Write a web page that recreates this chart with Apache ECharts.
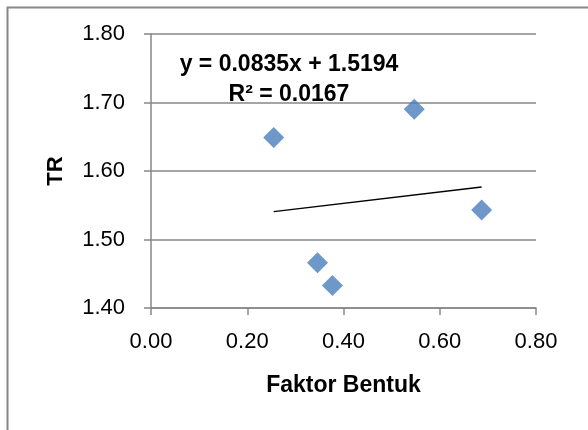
<!DOCTYPE html>
<html>
<head>
<meta charset="utf-8">
<script src="https://cdn.jsdelivr.net/npm/echarts@6/dist/echarts.min.js"></script>
<style>
html,body{margin:0;padding:0;background:#fff;}
#chart{width:588px;height:430px;}
</style>
</head>
<body>
<div id="chart"></div>
<script>
// Data
var faktorBentuk = [0.255, 0.346, 0.377, 0.547, 0.687];
var trValues = [1.649, 1.466, 1.433, 1.690, 1.543];
var trendSlope = 0.0835;
var trendIntercept = 1.5194;
var equationText = 'y = 0.0835x + 1.5194';
var r2Text = 'R\u00B2 = 0.0167';
var xAxisTitle = 'Faktor Bentuk';
var yAxisTitle = 'TR';

var points = faktorBentuk.map(function (x, i) { return [x, trValues[i]]; });
var xMin = Math.min.apply(null, faktorBentuk);
var xMax = Math.max.apply(null, faktorBentuk);
var trendLine = [
  [xMin, trendIntercept + trendSlope * xMin],
  [xMax, trendIntercept + trendSlope * xMax]
];

var FONT = '"Liberation Sans", Arial, sans-serif';
var GRAY = '#878787';

var chart = echarts.init(document.getElementById('chart'), null, {renderer: 'canvas'});
chart.setOption({
  animation: false,
  backgroundColor: '#ffffff',
  grid: {left: 151, top: 34, right: 52, bottom: 122, containLabel: false},
  xAxis: {
    type: 'value', min: 0, max: 0.8, interval: 0.2,
    name: xAxisTitle, nameLocation: 'middle', nameGap: 66,
    nameTextStyle: {fontFamily: FONT, fontSize: 23, fontWeight: 'bold', color: '#000'},
    axisLine: {show: true, lineStyle: {color: GRAY, width: 1.5}},
    axisTick: {show: true, length: 7, inside: false, lineStyle: {color: GRAY, width: 1.5}},
    axisLabel: {fontFamily: FONT, fontSize: 22, color: '#000', margin: 23,
      formatter: function (v) { return v.toFixed(2); }},
    splitLine: {show: false}
  },
  yAxis: {
    type: 'value', min: 1.4, max: 1.8, interval: 0.1,
    name: yAxisTitle, nameLocation: 'middle', nameGap: 84,
    nameTextStyle: {fontFamily: FONT, fontSize: 22, fontWeight: 'bold', color: '#000'},
    axisLine: {show: true, lineStyle: {color: GRAY, width: 1.5}},
    axisTick: {show: true, length: 7, inside: false, lineStyle: {color: GRAY, width: 1.5}},
    axisLabel: {fontFamily: FONT, fontSize: 22, color: '#000', margin: 26,
      formatter: function (v) { return v.toFixed(2); }},
    splitLine: {show: true, lineStyle: {color: GRAY, width: 1.5}}
  },
  series: [
    {
      type: 'scatter', data: points, symbol: 'diamond', symbolSize: [21, 21],
      itemStyle: {color: '#4A7EBB'}, z: 3
    },
    {
      type: 'line', data: trendLine, symbol: 'none',
      lineStyle: {color: '#000', width: 1.5}, z: 2
    }
  ],
  graphic: [
    {type: 'rect', left: 5, top: 5, shape: {width: 700, height: 600},
      style: {fill: 'none', stroke: GRAY, lineWidth: 2}, silent: true},
    {type: 'text', x: 289, y: 65,
      style: {text: equationText, font: 'bold 23px ' + FONT, fill: '#000',
        textAlign: 'center', textVerticalAlign: 'middle'}, z: 10},
    {type: 'text', x: 289, y: 95,
      style: {text: r2Text, font: 'bold 23px ' + FONT, fill: '#000',
        textAlign: 'center', textVerticalAlign: 'middle'}, z: 10}
  ]
});
</script>
</body>
</html>
